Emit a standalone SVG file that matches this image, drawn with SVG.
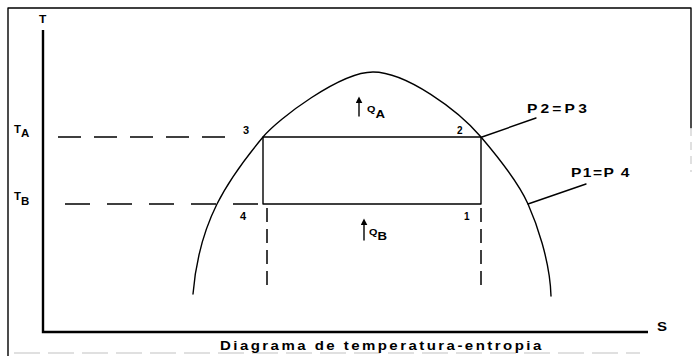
<svg xmlns="http://www.w3.org/2000/svg" width="693" height="356" viewBox="0 0 693 356">
<style>
.ln{fill:none;stroke:#000;stroke-width:1.4;stroke-linecap:round;stroke-linejoin:round}
.ax{fill:none;stroke:#000;stroke-width:2.4}
.dh{fill:none;stroke:#000;stroke-width:1.5}
.faint{fill:none;stroke:#d6d6d6;stroke-width:1.5}
text{font-family:"Liberation Sans",Arial,sans-serif;font-weight:bold;fill:#000}
.lab{font-size:11px}
.sm{font-size:10px}
</style>
<defs>
<marker id="ah" viewBox="0 0 10 10" refX="2" refY="5" markerWidth="7" markerHeight="7" orient="auto" markerUnits="userSpaceOnUse">
<path d="M0,0 L10,5 L0,10 z" fill="#000"/>
</marker>
</defs>
<g id="frame">
<path class="ln" d="M8,356 V8 H691 V128" stroke-width="1.6"/>
<path class="faint" d="M691,128 V172" stroke-dasharray="8 6"/>
<path class="faint" d="M14,353 H640" stroke-dasharray="26 8"/>
</g>
<g id="axes">
<path class="ax" d="M43,30 V332 H648"/>
<text x="39" y="23" class="sm" transform="translate(39,0) scale(1.2,1) translate(-39,0)">T</text>
<text x="657" y="331" font-size="12" transform="translate(657,0) scale(1.25,1) translate(-657,0)">S</text>
</g>
<g id="connectors">
<path class="dh" d="M58,137 H230" stroke-dasharray="23 13"/>
<path class="dh" d="M65,204 H258" stroke-dasharray="25 17"/>
<path class="dh" d="M267,208 V286" stroke-dasharray="14 7"/>
<path class="dh" d="M481,208 V286" stroke-dasharray="14 7"/>
<path class="ln" d="M263,137 H481 V204 H263 Z"/>
<path class="ln" d="M482,137 L536,118"/>
<path class="ln" d="M528,204 L586,184"/>
<path class="ln" d="M359,116 V102" stroke-width="2" marker-end="url(#ah)"/>
<path class="ln" d="M364,240 V224" stroke-width="2" marker-end="url(#ah)"/>
</g>
<g id="curve">
<path class="ln" d="M193,294 C196,258 204,230 217,204 S248,155 263,137 C278,119 340,72 373,72 C406,72 458,110 481,137 S520,186 528,204 S550,260 551,296"/>
</g>
<g id="labels">
<text x="14" y="133" class="sm" transform="translate(14,0) scale(1.15,1) translate(-14,0)">T<tspan font-size="10" dy="4">A</tspan></text>
<text x="14" y="200" class="sm" transform="translate(14,0) scale(1.15,1) translate(-14,0)">T<tspan font-size="10" dy="5">B</tspan></text>
<text x="243" y="134" class="lab">3</text>
<text x="457" y="134" class="sm">2</text>
<text x="240" y="220" class="lab">4</text>
<text x="464" y="220" class="sm">1</text>
<text x="367" y="112" font-size="9" transform="translate(367,0) scale(1.2,1) translate(-367,0)">Q<tspan font-size="11" dy="6">A</tspan></text>
<text x="369" y="235" font-size="9" transform="translate(369,0) scale(1.2,1) translate(-369,0)">Q<tspan font-size="11" dy="5">B</tspan></text>
<text x="527" y="113" font-size="12" transform="translate(527,0) scale(1.3,1) translate(-527,0)" textLength="46" lengthAdjust="spacing">P2=P3</text>
<text x="571" y="177" font-size="12" transform="translate(571,0) scale(1.3,1) translate(-571,0)" textLength="45" lengthAdjust="spacing">P1=P 4</text>
<text x="220" y="350" font-size="12" transform="translate(220,0) scale(1.25,1) translate(-220,0)" textLength="257" lengthAdjust="spacing">Diagrama de temperatura-entropia</text>
</g>
</svg>
